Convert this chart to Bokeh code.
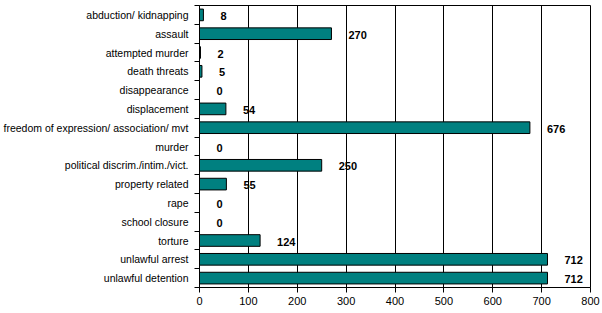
from bokeh.plotting import figure
from bokeh.models import ColumnDataSource, FixedTicker, Range1d
from bokeh.core.properties import value
from bokeh.embed import file_html
from bokeh.resources import INLINE

categories = ["abduction/ kidnapping", "assault", "attempted murder", "death threats",
              "disappearance", "displacement", "freedom of expression/ association/ mvt",
              "murder", "political discrim./intim./vict.", "property related", "rape",
              "school closure", "torture", "unlawful arrest", "unlawful detention"]
counts = [8, 270, 2, 5, 0, 54, 676, 0, 250, 55, 0, 0, 124, 712, 712]
x_ticks = [0, 100, 200, 300, 400, 500, 600, 700, 800]

n = len(categories)
ypos = [n - i - 0.5 for i in range(n)]
src = ColumnDataSource(dict(cat=categories, val=counts, y=ypos,
                            lab=[str(v) for v in counts]))

p = figure(width=602, height=313, output_backend="svg", toolbar_location=None,
           x_range=Range1d(0, 800), y_range=Range1d(0, n),
           min_border_left=199, min_border_right=12, min_border_top=5, min_border_bottom=26)

p.hbar(y="y", left=0, right="val", height=0.62, source=src,
       fill_color="#008080", line_color="black", line_width=1)
p.text(x="val", y="y", text="lab", source=src, x_offset=17, y_offset=1,
       text_align="left", text_baseline="middle",
       text_font=value("Liberation Sans"), text_font_style="bold",
       text_font_size="11px", text_color="black")

p.outline_line_color = "black"
p.outline_line_width = 1
p.ygrid.grid_line_color = None
p.xgrid.grid_line_color = "black"
p.xgrid.grid_line_alpha = 1
p.xgrid.ticker = FixedTicker(ticks=x_ticks)

xa = p.xaxis[0]
xa.ticker = FixedTicker(ticks=x_ticks)
xa.axis_line_color = "black"
xa.major_tick_line_color = "black"
xa.major_tick_out = 5
xa.major_tick_in = 0
xa.minor_tick_line_color = None
xa.major_label_text_font = "Liberation Sans"
xa.major_label_text_font_size = "11px"
xa.major_label_text_color = "black"
xa.major_label_standoff = 4

ya = p.yaxis[0]
ya.ticker = FixedTicker(ticks=ypos, minor_ticks=list(range(n + 1)))
ya.major_label_overrides = {y: c for y, c in zip(ypos, categories)}
ya.axis_line_color = "black"
ya.major_tick_line_color = None
ya.major_tick_out = 0
ya.major_tick_in = 0
ya.minor_tick_line_color = "black"
ya.minor_tick_out = 5
ya.minor_tick_in = 0
ya.major_label_text_font = "Liberation Sans"
ya.major_label_text_font_size = "10.5px"
ya.major_label_text_color = "black"
ya.major_label_standoff = 6

open("out.html", "w").write(file_html(p, INLINE))
